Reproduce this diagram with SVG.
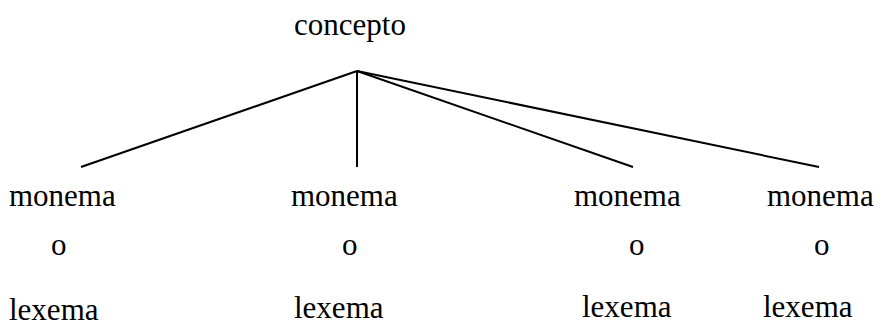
<svg xmlns="http://www.w3.org/2000/svg" width="881" height="327" viewBox="0 0 881 327">
<style>
text{font-family:'Liberation Serif','Times New Roman',serif;font-size:31px;fill:#000}
.c line{stroke:#000;stroke-width:2}
</style>
<rect width="881" height="327" fill="#fff"/>
<g id="concepto"><text x="294" y="35">concepto</text></g>
<g class="c" id="connectors">
<line x1="357" y1="71" x2="81" y2="167"/>
<line x1="357" y1="71" x2="357" y2="167"/>
<line x1="357" y1="71" x2="633" y2="167"/>
<line x1="357" y1="71" x2="819" y2="167"/>
</g>
<g id="n1"><text x="9" y="206">monema</text><text x="51" y="255">o</text><text x="9" y="320">lexema</text></g>
<g id="n2"><text x="291" y="206">monema</text><text x="342" y="255">o</text><text x="294" y="318">lexema</text></g>
<g id="n3"><text x="574" y="206">monema</text><text x="629" y="255">o</text><text x="582" y="317">lexema</text></g>
<g id="n4"><text x="767" y="206">monema</text><text x="814" y="255">o</text><text x="763" y="317">lexema</text></g>
</svg>
